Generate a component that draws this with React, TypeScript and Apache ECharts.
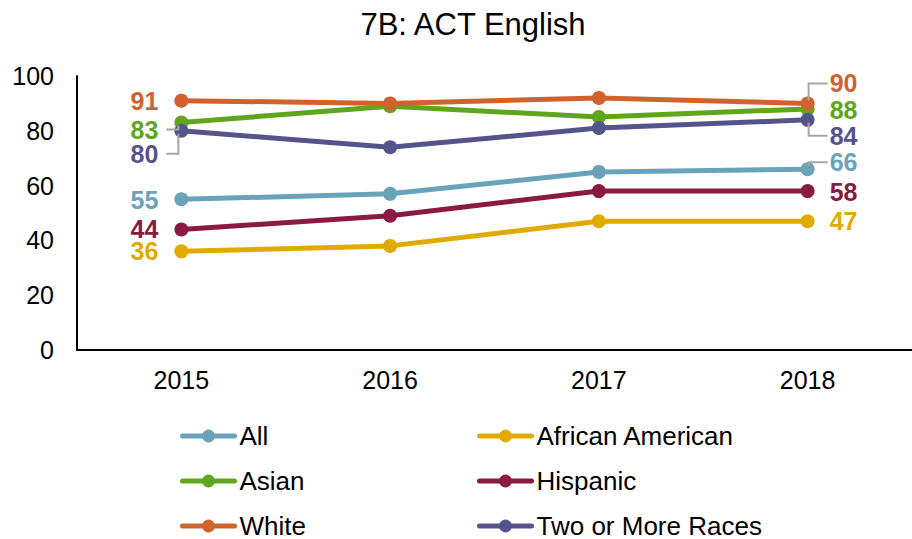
import React, { useEffect, useRef } from "react";
import * as echarts from "echarts";

const years = ["2015", "2016", "2017", "2018"];
const allStudents = [55, 57, 65, 66];
const africanAmerican = [36, 38, 47, 47];
const asian = [83, 89, 85, 88];
const hispanic = [44, 49, 58, 58];
const white = [91, 90, 92, 90];
const twoOrMore = [80, 74, 81, 84];
const yTicks = [0, 20, 40, 60, 80, 100];

// styling: colours, label vertical offsets (first, last), leader-line flags
const seriesDefs = [
  { name: "All", values: allStudents, color: "#68A3BA", dy: [1, -7], leader: [false, true] },
  { name: "African American", values: africanAmerican, color: "#E0AA00", dy: [0, 0], leader: [false, false] },
  { name: "Asian", values: asian, color: "#5FA61C", dy: [7, 1], leader: [true, false] },
  { name: "Hispanic", values: hispanic, color: "#8B1A42", dy: [0, 1], leader: [false, false] },
  { name: "White", values: white, color: "#D0622E", dy: [0, -20], leader: [false, true] },
  { name: "Two or More Races", values: twoOrMore, color: "#55548A", dy: [23, 16], leader: [true, true] },
];

const legendLayout = [
  { name: "All", left: 180, top: 423 },
  { name: "African American", left: 477, top: 423 },
  { name: "Asian", left: 180, top: 468 },
  { name: "Hispanic", left: 477, top: 468 },
  { name: "White", left: 180, top: 513 },
  { name: "Two or More Races", left: 477, top: 513 },
];

const FONT = "'Liberation Sans', Arial, sans-serif";

export default function App() {
  const ref = useRef<HTMLDivElement>(null);
  useEffect(() => {
    if (!ref.current) return;
    const chart = echarts.init(ref.current, null, { renderer: "svg" });
    const last = years.length - 1;
    chart.setOption({
      animation: false,
      backgroundColor: "#fff",
      title: {
        text: "7B: ACT English",
        left: 468,
        textAlign: "center",
        top: 4,
        textStyle: { fontFamily: FONT, fontSize: 31, fontWeight: "normal", color: "#000" },
      },
      grid: { left: 77, right: -10, top: 76, height: 274 },
      xAxis: {
        type: "category",
        data: years,
        boundaryGap: true,
        axisLine: { show: true, lineStyle: { color: "#000", width: 2 } },
        axisTick: { show: false },
        axisLabel: { fontFamily: FONT, fontSize: 25, color: "#000", margin: 17 },
      },
      yAxis: {
        type: "value",
        min: yTicks[0],
        max: yTicks[yTicks.length - 1],
        interval: 20,
        splitLine: { show: false },
        axisLine: { show: true, lineStyle: { color: "#000", width: 2 } },
        axisTick: { show: false },
        axisLabel: { fontFamily: FONT, fontSize: 25, color: "#000", margin: 23 },
      },
      legend: legendLayout.map((l) => ({
        data: [l.name],
        orient: "horizontal",
        left: l.left,
        top: l.top,
        padding: 0,
        itemWidth: 52,
        itemHeight: 16,
        lineStyle: { width: 5, cap: "round" },
        textStyle: { fontFamily: FONT, fontSize: 26, color: "#000", lineHeight: 22 },
      })),
      series: seriesDefs.map((s) => ({
        name: s.name,
        type: "line",
        symbol: "circle",
        symbolSize: 14,
        lineStyle: { color: s.color, width: 5 },
        itemStyle: { color: s.color },
        data: s.values.map((v, i) => ({
          value: v,
          label: {
            show: i === 0 || i === last,
            position: i === 0 ? "left" : "right",
            distance: i === 0 ? 16 : 15,
            fontFamily: FONT,
            fontSize: 25,
            lineHeight: 20,
            fontWeight: "bold",
            color: s.color,
          },
        })),
        labelLayout: (params: any) => {
          const idx = params.dataIndex === 0 ? 0 : 1;
          return { dy: s.dy[idx] };
        },
      })),
    });

    // Leader lines (elbow) from moved labels to their points, positioned via the chart's scales
    const graphics: any[] = [];
    seriesDefs.forEach((s, si) => {
      [0, last].forEach((di, k) => {
        if (!s.leader[k]) return;
        const p = chart.convertToPixel({ seriesIndex: si }, [di, s.values[di]]) as number[];
        if (!p) return;
        const [px, py] = p;
        const ly = py + s.dy[k];
        const pts =
          k === 0
            ? [
                [px - 15, ly],
                [px - 3, ly],
                [px - 3, py + (ly > py ? 3 : -3)],
              ]
            : [
                [px + 20, ly],
                [px + 1, ly],
                [px + 1, py + (ly > py ? 3 : -3)],
              ];
        graphics.push({
          type: "polyline",
          shape: { points: pts },
          style: { stroke: "#A6A6A6", lineWidth: 2, fill: null },
          z: 10,
        });
      });
    });
    chart.setOption({ graphic: graphics });
    return () => chart.dispose();
  }, []);
  return (
    <div
      ref={ref}
      style={{ position: "fixed", left: 0, top: 0, width: 912, height: 539 }}
    />
  );
}
